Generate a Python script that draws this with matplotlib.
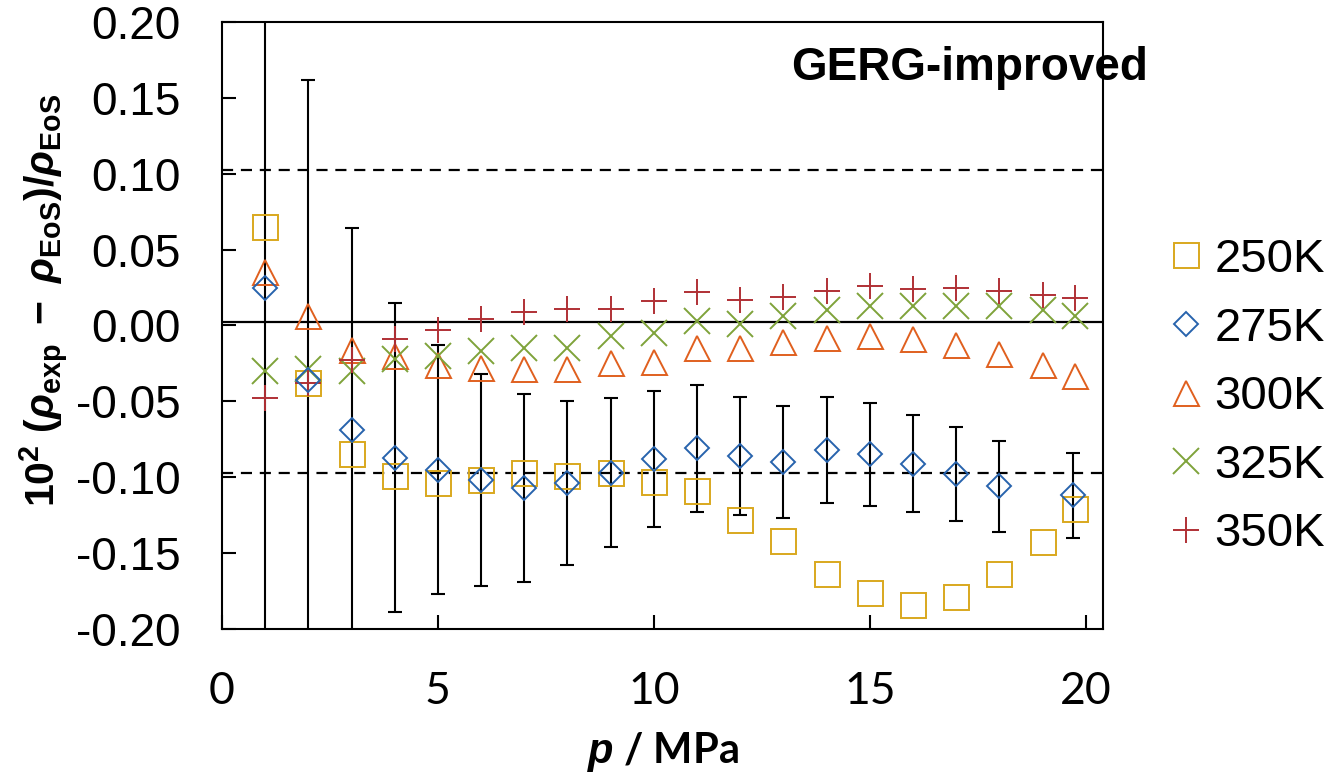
import matplotlib
matplotlib.use('Agg')
import matplotlib.pyplot as plt
from matplotlib.ticker import FormatStrFormatter

plt.rcParams['font.family'] = ['Liberation Sans', 'DejaVu Sans']
plt.rcParams['axes.unicode_minus'] = False
plt.rcParams['mathtext.fontset'] = 'custom'
plt.rcParams['mathtext.rm'] = 'Liberation Sans'
plt.rcParams['mathtext.it'] = 'Liberation Sans:italic'
plt.rcParams['mathtext.bf'] = 'Liberation Sans:bold'
plt.rcParams['mathtext.bfit'] = 'Liberation Sans:italic:bold'

# pressures (MPa)
P_FULL = [1, 2, 3, 4, 5, 6, 7, 8, 9, 10, 11, 12, 13, 14, 15, 16, 17, 18, 19, 19.75]
P_275 = [1, 2, 3, 4, 5, 6, 7, 8, 9, 10, 11, 12, 13, 14, 15, 16, 17, 18, 19.7]

dev_250 = [0.065, -0.038, -0.085, -0.099, -0.104, -0.102, -0.097, -0.099, -0.097, -0.103,
           -0.109, -0.128, -0.142, -0.164, -0.176, -0.184, -0.179, -0.164, -0.143, -0.121]
dev_275 = [0.025, -0.036, -0.069, -0.087, -0.095, -0.102, -0.107, -0.104, -0.097, -0.088,
           -0.081, -0.086, -0.090, -0.082, -0.085, -0.091, -0.098, -0.106, -0.112]
err_275 = [0.30, 0.198, 0.133, 0.102, 0.082, 0.070, 0.062, 0.054, 0.049, 0.045,
           0.042, 0.039, 0.037, 0.035, 0.034, 0.032, 0.031, 0.030, 0.028]
dev_300 = [0.035, 0.006, -0.016, -0.020, -0.026, -0.028, -0.029, -0.029, -0.025, -0.024,
           -0.015, -0.015, -0.011, -0.008, -0.007, -0.009, -0.013, -0.019, -0.026, -0.033]
dev_325 = [-0.030, -0.029, -0.030, -0.022, -0.020, -0.017, -0.015, -0.015, -0.007, -0.005,
           0.003, 0.001, 0.006, 0.010, 0.013, 0.013, 0.013, 0.013, 0.010, 0.006]
dev_350 = [-0.048, -0.038, -0.023, -0.009, -0.003, 0.004, 0.009, 0.011, 0.011, 0.016,
           0.022, 0.017, 0.019, 0.023, 0.026, 0.024, 0.025, 0.023, 0.020, 0.018]

ref_level = 0.0025
band = 0.10

fig = plt.figure(figsize=(13.33, 7.77), dpi=100)
ax = fig.add_axes([0.1665, 0.1905, 0.661, 0.7812])

ax.axhline(ref_level, color='black', lw=1.6, zorder=1)
ax.axhline(ref_level + band, color='black', lw=1.6, ls=(0, (5, 3.5)), zorder=1)
ax.axhline(ref_level - band, color='black', lw=1.6, ls=(0, (5, 3.5)), zorder=1)

mew = 1.4
ax.plot(P_FULL, dev_250, ls='none', marker='s', ms=18, mfc='none', mec='#D9A81E', mew=mew, label='250K', zorder=3)
ax.errorbar(P_275, dev_275, yerr=err_275, fmt='none', ecolor='black', elinewidth=1.5,
            capsize=5, capthick=1.5, zorder=2)
ax.plot(P_275, dev_275, ls='none', marker='D', ms=12.5, mfc='none', mec='#2763AD', mew=mew, label='275K', zorder=4)
ax.plot(P_FULL, dev_300, ls='none', marker='^', ms=18, mfc='none', mec='#E0601F', mew=mew, label='300K', zorder=3)
ax.plot(P_FULL, dev_325, ls='none', marker='x', ms=19, mfc='none', mec='#7FA33A', mew=mew, label='325K', zorder=3)
ax.plot(P_FULL, dev_350, ls='none', marker='+', ms=19, mfc='none', mec='#B03035', mew=mew, label='350K', zorder=3)

ax.set_xlim(0, 20.4)
ax.set_ylim(-0.20, 0.20)
ax.set_xticks([0, 5, 10, 15, 20])
ax.set_yticks([-0.20, -0.15, -0.10, -0.05, 0.00, 0.05, 0.10, 0.15, 0.20])
ax.yaxis.set_major_formatter(FormatStrFormatter('%.2f'))
ax.tick_params(axis='both', direction='in', length=10, width=1.5)
ax.tick_params(axis='y', pad=30, labelsize=33)
ax.tick_params(axis='x', pad=30, labelsize=32)
for lbl in ax.get_xticklabels():
    lbl.set_family(['Lato', 'DejaVu Sans'])
for sp in ax.spines.values():
    sp.set_linewidth(1.5)

ax.set_ylabel(r'$\mathbf{10^2\ (}\boldsymbol{\rho}_\mathbf{exp}\mathbf{\ -\ }\boldsymbol{\rho}_\mathbf{EoS}\mathbf{)/}\boldsymbol{\rho}_\mathbf{EoS}$',
              fontsize=29.5)
ax.yaxis.set_label_coords(-0.172, 0.542)
ax.set_xlabel(r'$\boldsymbol{p}$ / MPa', fontsize=30, fontweight='bold',
              family=['Lato', 'DejaVu Sans'], labelpad=13)

ax.text(17.3, 0.170, 'GERG-improved', fontsize=33, fontweight='bold', ha='center', va='center', clip_on=False)

ax.legend(loc='center left', bbox_to_anchor=(1.070, 0.382), frameon=False, fontsize=34,
          handlelength=0.9, handletextpad=0.15, labelspacing=0.52, borderaxespad=0, borderpad=0)

fig.savefig('out.png', dpi=100)
